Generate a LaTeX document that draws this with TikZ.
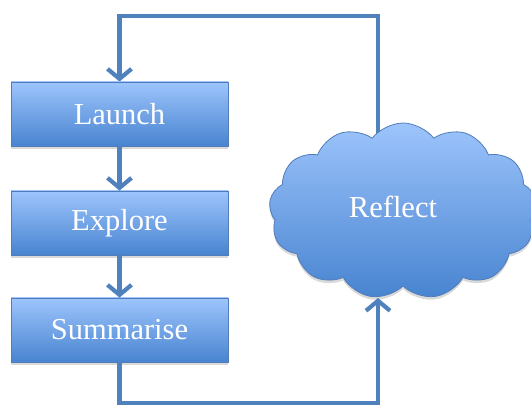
\documentclass[tikz,border=0pt]{standalone}
\usepackage{fontspec}
\setmainfont{Liberation Serif}
\usepackage{tikz}
\usetikzlibrary{arrows.meta,positioning,calc,shapes.symbols,shadows,backgrounds}
\definecolor{linkblue}{RGB}{79,129,189}
\definecolor{boxtop}{RGB}{157,196,252}
\definecolor{boxbot}{RGB}{72,132,208}
\definecolor{boxedge}{RGB}{80,124,185}

\begin{document}
\begin{tikzpicture}[x=1pt,y=-1pt,
    stage/.style={rectangle,draw=boxedge,line width=0.8pt,top color=boxtop,bottom color=boxbot,
      minimum width=217pt,minimum height=64pt,text=white,font=\fontsize{30.5}{36}\selectfont,
      drop shadow={shadow xshift=0pt,shadow yshift=-3pt,opacity=0.3}},
    thought/.style={cloud,cloud puffs=13,cloud puff arc=105,draw=boxedge,line width=0.8pt,
      top color=boxtop,bottom color=boxbot,minimum width=268pt,minimum height=176pt,
      drop shadow={shadow xshift=0pt,shadow yshift=-3pt,opacity=0.3}},
    flow/.style={draw=linkblue,line width=4.2pt,-{Straight Barb[length=10pt,width=24pt]}}]
  \useasboundingbox (0,0) rectangle (531,406);
  \node[stage] (launch) at (119.5,114) {Launch};
  \node[stage] (explore) at (119.5,223) {Explore};
  \node[stage] (summarise) at (119.5,330) {Summarise};
  \node[thought] (reflect) at (403,211) {};
  \node[text=white,font=\fontsize{30.5}{36}\selectfont] (reflecttext) at (393,207) {Reflect};
  \coordinate (looptop) at (378,16);
  \coordinate (loopbot) at (378,403);
  \draw[flow] (launch) -- (explore);
  \draw[flow] (explore) -- (summarise);
  \begin{scope}[on background layer]
    \draw[flow] (looptop |- reflect.center) -- (looptop) -| (launch.north);
  \end{scope}
  \draw[flow] (summarise.south) |- (loopbot) -- (loopbot |- 0,298);
\end{tikzpicture}
\end{document}
